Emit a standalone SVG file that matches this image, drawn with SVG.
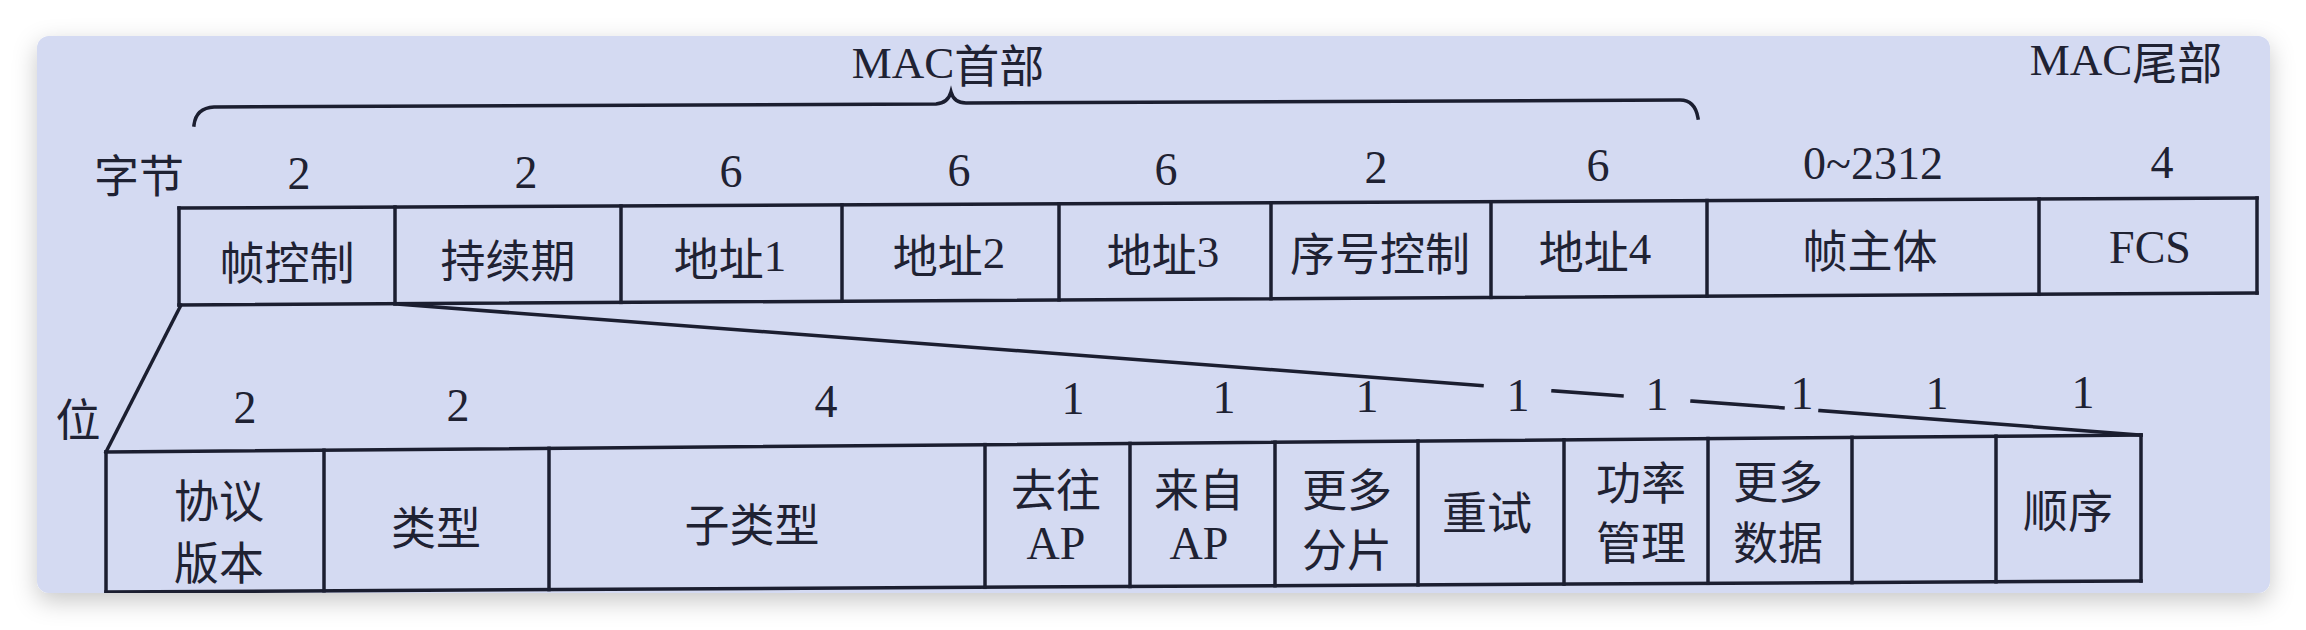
<svg xmlns="http://www.w3.org/2000/svg" width="2306" height="630" viewBox="0 0 2306 630">
<defs>
<filter id="sh" x="-5%" y="-20%" width="110%" height="140%">
<feDropShadow dx="0" dy="8" stdDeviation="12" flood-color="#000" flood-opacity="0.22"/>
</filter>
<clipPath id="cardclip"><rect x="37" y="36" width="2233" height="557" rx="12"/></clipPath>
</defs>
<style>
.ln{stroke:#1b1e30;stroke-width:3.5;fill:none;stroke-linecap:square}
.cj{font-family:"Noto Sans CJK SC","Noto Sans",sans-serif;font-size:45px;fill:#1f2233;text-anchor:middle;dominant-baseline:central}
.nm{font-family:"Liberation Serif","Times New Roman",serif;font-size:46px;fill:#1f2233;text-anchor:middle;dominant-baseline:central}
.lat{font-family:"Liberation Serif","Times New Roman",serif}
</style>
<rect width="2306" height="630" fill="#ffffff"/>
<rect x="37" y="36" width="2233" height="557" rx="12" fill="#d4daf2" filter="url(#sh)"/>
<g clip-path="url(#cardclip)">
<g id="connectors">
<path class="ln" d="M194,125 Q196,108 214,107 L936,104 Q948,103 951,92 Q954,103 966,103 L1680,100 Q1695,100 1698,118" stroke-width="3"/>
<line class="ln" x1="181" y1="305" x2="106" y2="452"/>
<line class="ln" x1="395" y1="304" x2="1482" y2="385.5"/>
<line class="ln" x1="1553" y1="390.8" x2="1622" y2="395.9"/>
<line class="ln" x1="1692" y1="401.1" x2="1783" y2="407.8"/>
<line class="ln" x1="1820" y1="410.6" x2="2141" y2="435"/>
</g>
<g id="mac-header-row">
<line class="ln" x1="179" y1="208" x2="2257" y2="198"/>
<line class="ln" x1="179" y1="305" x2="2257" y2="293"/>
<line class="ln" x1="179" y1="208" x2="179" y2="305"/>
<line class="ln" x1="395" y1="207" x2="395" y2="303.8"/>
<line class="ln" x1="621" y1="205.9" x2="621" y2="302.4"/>
<line class="ln" x1="842" y1="204.8" x2="842" y2="301.2"/>
<line class="ln" x1="1059" y1="203.8" x2="1059" y2="299.9"/>
<line class="ln" x1="1271" y1="202.7" x2="1271" y2="298.7"/>
<line class="ln" x1="1491" y1="201.7" x2="1491" y2="297.4"/>
<line class="ln" x1="1707" y1="200.6" x2="1707" y2="296.2"/>
<line class="ln" x1="2039" y1="199.1" x2="2039" y2="294.3"/>
<line class="ln" x1="2257" y1="198" x2="2257" y2="293"/>
</g>
<g id="frame-control-row">
<line class="ln" x1="106" y1="452" x2="2141" y2="435"/>
<line class="ln" x1="106" y1="592" x2="2141" y2="581"/>
<line class="ln" x1="106" y1="452" x2="106" y2="592"/>
<line class="ln" x1="324" y1="450.2" x2="324" y2="590.8"/>
<line class="ln" x1="549" y1="448.3" x2="549" y2="589.6"/>
<line class="ln" x1="985" y1="444.6" x2="985" y2="587.3"/>
<line class="ln" x1="1130" y1="443.4" x2="1130" y2="586.5"/>
<line class="ln" x1="1275" y1="442.2" x2="1275" y2="585.7"/>
<line class="ln" x1="1418" y1="441" x2="1418" y2="584.9"/>
<line class="ln" x1="1564" y1="439.8" x2="1564" y2="584.1"/>
<line class="ln" x1="1708" y1="438.5" x2="1708" y2="583.3"/>
<line class="ln" x1="1852" y1="437.3" x2="1852" y2="582.6"/>
<line class="ln" x1="1996" y1="436.1" x2="1996" y2="581.8"/>
<line class="ln" x1="2141" y1="434.9" x2="2141" y2="581"/>
</g>
</g>
<g id="labels">
<text class="cj" x="948" y="63"><tspan class="lat">MAC</tspan>首部</text>
<text class="cj" x="2126" y="60"><tspan class="lat">MAC</tspan>尾部</text>
<text class="cj" x="139" y="173">字节</text>
<text class="cj" x="78" y="417">位</text>
</g>
<g id="byte-sizes">
<text class="nm" x="299" y="173">2</text>
<text class="nm" x="526" y="172">2</text>
<text class="nm" x="731" y="171">6</text>
<text class="nm" x="959" y="170">6</text>
<text class="nm" x="1166" y="169">6</text>
<text class="nm" x="1376" y="167">2</text>
<text class="nm" x="1598" y="165">6</text>
<text class="nm" x="1873" y="163">0~2312</text>
<text class="nm" x="2162" y="162">4</text>
</g>
<g id="bit-sizes">
<text class="nm" x="245" y="407">2</text>
<text class="nm" x="458" y="405">2</text>
<text class="nm" x="826" y="401">4</text>
<text class="nm" x="1073" y="398">1</text>
<text class="nm" x="1224" y="397">1</text>
<text class="nm" x="1367" y="396">1</text>
<text class="nm" x="1518" y="395">1</text>
<text class="nm" x="1657" y="394">1</text>
<text class="nm" x="1802" y="393">1</text>
<text class="nm" x="1937" y="393">1</text>
<text class="nm" x="2083" y="392">1</text>
</g>
<g id="field-frame-control"><text class="cj" x="287" y="260" font-size="47">帧控制</text></g>
<g id="field-duration"><text class="cj" x="508" y="258" font-size="47">持续期</text></g>
<g id="field-addr1"><text class="cj" x="730" y="256" font-size="47">地址<tspan class="lat">1</tspan></text></g>
<g id="field-addr2"><text class="cj" x="949" y="253" font-size="47">地址<tspan class="lat">2</tspan></text></g>
<g id="field-addr3"><text class="cj" x="1163" y="252" font-size="47">地址<tspan class="lat">3</tspan></text></g>
<g id="field-seq"><text class="cj" x="1380" y="251" font-size="47">序号控制</text></g>
<g id="field-addr4"><text class="cj" x="1595" y="249" font-size="47">地址<tspan class="lat">4</tspan></text></g>
<g id="field-body"><text class="cj" x="1870" y="248" font-size="47">帧主体</text></g>
<g id="field-fcs"><text class="nm" x="2150" y="247">FCS</text></g>
<g id="bit-protocol"><text class="cj" x="219" y="498">协议</text><text class="cj" x="219" y="560">版本</text></g>
<g id="bit-type"><text class="cj" x="436" y="525">类型</text></g>
<g id="bit-subtype"><text class="cj" x="752" y="522">子类型</text></g>
<g id="bit-toap"><text class="cj" x="1056" y="487">去往</text><text class="nm" x="1056" y="543">AP</text></g>
<g id="bit-fromap"><text class="cj" x="1199" y="487">来自</text><text class="nm" x="1199" y="543">AP</text></g>
<g id="bit-morefrag"><text class="cj" x="1347" y="487">更多</text><text class="cj" x="1347" y="547">分片</text></g>
<g id="bit-retry"><text class="cj" x="1487" y="510">重试</text></g>
<g id="bit-power"><text class="cj" x="1641" y="480">功率</text><text class="cj" x="1641" y="540">管理</text></g>
<g id="bit-moredata"><text class="cj" x="1778" y="479" font-size="44">更多</text><text class="cj" x="1778" y="540" font-size="44">数据</text></g>
<g id="bit-empty"></g>
<g id="bit-order"><text class="cj" x="2068" y="508">顺序</text></g>
</svg>
